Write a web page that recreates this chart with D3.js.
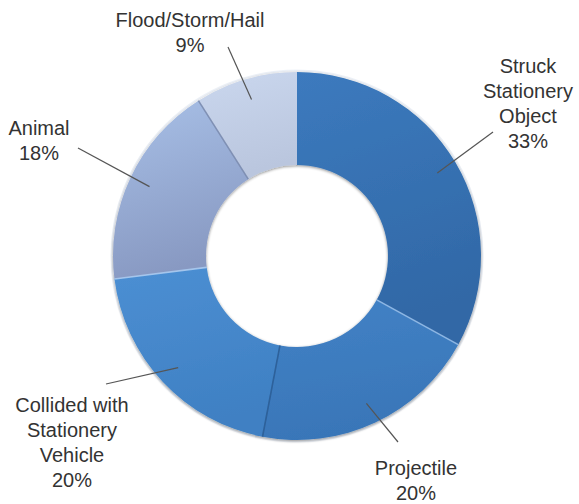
<!DOCTYPE html>
<html>
<head>
<meta charset="utf-8">
<script src="https://cdn.jsdelivr.net/npm/d3@7"></script>
<style>
  html, body { margin: 0; padding: 0; background: #ffffff; }
  svg { display: block; }
  text { font-family: "Liberation Sans", Arial, Helvetica, sans-serif; font-size: 20px; fill: #333333; }
</style>
</head>
<body>
<svg id="chart" width="579" height="504"></svg>
<script>
// ---- data ----
const categories = ["Struck Stationery Object", "Projectile", "Collided with Stationery Vehicle", "Animal", "Flood/Storm/Hail"];
const values = [33, 20, 20, 18, 9];
const labelLines = [
  ["Struck", "Stationery", "Object", "33%"],
  ["Projectile", "20%"],
  ["Collided with", "Stationery", "Vehicle", "20%"],
  ["Animal", "18%"],
  ["Flood/Storm/Hail", "9%"]
];

// ---- layout / style (not data) ----
const W = 579, H = 504;
const cx = 297, cy = 256, outerR = 184, innerR = 91, leaderR = 163;
const labelPos = [ [528, 73], [416, 475], [72, 412], [39, 135], [190, 27] ];
const leaderOuter = [ [493, 132], [398, 442], [106, 384], [78, 148], [228, 47] ];
const lineHeight = 25;
const gradTop = ["#3c7abe", "#4282c6", "#4c8fd3", "#a8c0e7", "#cad7ee"];
const gradBot = ["#3168a6", "#3976b8", "#3f80c3", "#8899c2", "#bac6de"];
const edgeCol = ["#3c7abe", "#94bce8", "#2a5d96", "#a9caf0", "#7a8bb0"];

const svg = d3.select("#chart");
const defs = svg.append("defs");

const filt = defs.append("filter").attr("id", "shadow").attr("x", "-10%").attr("y", "-10%").attr("width", "120%").attr("height", "120%");
filt.append("feGaussianBlur").attr("in", "SourceAlpha").attr("stdDeviation", 1.6).attr("result", "blur");
filt.append("feOffset").attr("in", "blur").attr("dx", 0).attr("dy", 0.6).attr("result", "off");
filt.append("feComponentTransfer").attr("in", "off").attr("result", "off2")
  .append("feFuncA").attr("type", "linear").attr("slope", 0.45);
const merge = filt.append("feMerge");
merge.append("feMergeNode").attr("in", "off2");
merge.append("feMergeNode").attr("in", "SourceGraphic");

values.forEach((v, i) => {
  const g = defs.append("linearGradient").attr("id", "grad" + i)
    .attr("x1", 0).attr("y1", 0).attr("x2", 0.25).attr("y2", 1);
  g.append("stop").attr("offset", "0%").attr("stop-color", gradTop[i]);
  g.append("stop").attr("offset", "100%").attr("stop-color", gradBot[i]);
});

const pie = d3.pie().value(d => d).sort(null);
const arcs = pie(values);
const arc = d3.arc().innerRadius(innerR).outerRadius(outerR);
const leaderArc = d3.arc().innerRadius(leaderR).outerRadius(leaderR);

const g = svg.append("g").attr("transform", `translate(${cx},${cy})`);

// white glow ring behind
g.append("circle").attr("r", outerR + 1.5).attr("fill", "none").attr("stroke", "#eef2f8").attr("stroke-width", 2);

const slices = g.append("g").attr("filter", "url(#shadow)");
slices.selectAll("path.slice").data(arcs).enter().append("path")
  .attr("class", "slice")
  .attr("d", arc)
  .attr("fill", (d, i) => `url(#grad${i})`)
  .attr("stroke", "none");

// separator lines at the start of each slice (except the first)
g.selectAll("line.sep").data(arcs.slice(1)).enter().append("line")
  .attr("class", "sep")
  .attr("x1", d => innerR * Math.sin(d.startAngle))
  .attr("y1", d => -innerR * Math.cos(d.startAngle))
  .attr("x2", d => outerR * Math.sin(d.startAngle))
  .attr("y2", d => -outerR * Math.cos(d.startAngle))
  .attr("stroke", (d, i) => edgeCol[i + 1])
  .attr("stroke-width", 1.6)
  .attr("opacity", 0.9);

// leader lines
svg.selectAll("line.leader").data(arcs).enter().append("line")
  .attr("class", "leader")
  .attr("x1", d => cx + leaderArc.centroid(d)[0])
  .attr("y1", d => cy + leaderArc.centroid(d)[1])
  .attr("x2", (d, i) => leaderOuter[i][0])
  .attr("y2", (d, i) => leaderOuter[i][1])
  .attr("stroke", "#555")
  .attr("stroke-width", 1.2);

// labels
const lab = svg.selectAll("text.label").data(arcs).enter().append("text")
  .attr("class", "label")
  .attr("text-anchor", "middle")
  .attr("x", (d, i) => labelPos[i][0])
  .attr("y", (d, i) => labelPos[i][1]);
lab.each(function(d, i) {
  const t = d3.select(this);
  labelLines[i].forEach((s, k) => {
    t.append("tspan").attr("x", labelPos[i][0]).attr("dy", k === 0 ? 0 : lineHeight).text(s);
  });
});
</script>
</body>
</html>
